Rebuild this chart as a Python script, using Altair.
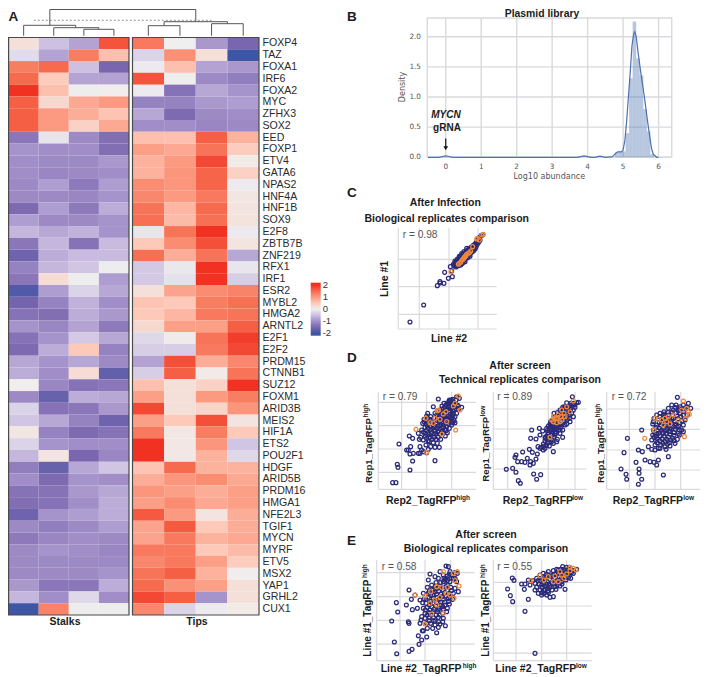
import altair as alt
import pandas as pd

genes = ["FOXP4","TAZ","FOXA1","IRF6","FOXA2","MYC","ZFHX3","SOX2","EED","FOXP1","ETV4","GATA6","NPAS2","HNF4A","HNF1B","SOX9","E2F8","ZBTB7B","ZNF219","RFX1","IRF1","ESR2","MYBL2","HMGA2","ARNTL2","E2F1","E2F2","PRDM15","CTNNB1","SUZ12","FOXM1","ARID3B","MEIS2","HIF1A","ETS2","POU2F1","HDGF","ARID5B","PRDM16","HMGA1","NFE2L3","TGIF1","MYCN","MYRF","ETV5","MSX2","YAP1","GRHL2","CUX1"]
heat = [
[0.2,-0.5,-0.8,1.7,1.35,0,-0.9,-1.5],[-0.2,-0.8,1.3,0.6,-0.3,1.1,0.2,-2.0],[1.3,1.5,-0.5,-1.5,-0.05,0.6,-0.8,-0.9],
[1.5,0.45,-0.8,-0.8,1.7,0.02,-1.05,-1.2],[2.0,0.6,-0.02,0.03,-0.05,-1.35,-0.75,-0.95],[1.6,0.3,0.85,1.0,-1.15,-1.15,-0.9,-0.85],
[1.6,1.0,0.8,0.55,-0.75,-1.45,-1.05,-1.0],[1.6,1.0,0.4,0.85,-1.0,-1.0,-1.1,-1.05],[-1.3,-0.12,-1.05,-1.4,0.6,0.6,1.6,0.75],
[-0.95,-1.0,-1.0,-1.4,0.95,0.85,1.4,0.45],[-1.0,-1.05,-1.05,-0.9,0.75,1.0,1.8,0.07],[-1.0,-1.1,-1.05,-1.0,0.75,1.05,1.55,0.4],
[-1.05,-0.85,-1.25,-0.85,1.15,1.05,1.55,-0.05],[-1.05,-1.05,-1.1,-0.95,1.2,1.0,1.35,0.12],[-1.45,-0.85,-1.25,-0.7,1.4,0.7,1.5,0.15],
[-0.85,-1.05,-1.05,-0.95,1.45,0.65,1.45,0.17],[-0.6,-0.75,-0.65,-0.95,-0.1,1.4,2.0,-0.05],[-1.3,-0.6,-1.35,-0.55,0.5,1.15,1.75,0.15],
[-1.6,-0.7,-0.55,-0.55,1.45,0.8,1.4,-0.75],[-1.15,-0.6,-0.45,-0.02,-0.4,-0.07,2.0,-0.1],[-1.3,0.25,-0.02,-0.85,-0.4,-0.15,2.0,-0.35],
[-1.85,-0.85,-0.3,-0.75,0.2,0.9,1.15,1.25],[-1.55,-1.15,-0.65,-1.0,0.55,0.5,1.3,1.45],[-1.35,-1.4,-0.7,-0.9,0.5,0.7,1.35,1.4],
[-0.95,-1.1,-0.8,-1.25,0.3,0.95,0.95,1.6],[-1.35,-0.95,-0.4,-0.75,-0.25,0.05,1.4,1.9],[-1.45,-0.7,0.5,-1.15,-0.35,-0.35,1.35,1.8],
[-0.75,-0.95,-0.75,-1.05,-0.8,1.75,0.8,1.2],[-0.7,-1.0,0.25,-1.7,-0.35,1.6,0.07,1.4],[0.03,-1.1,-1.35,-1.3,0.6,0.2,0.4,2.0],
[-1.05,-1.65,-0.7,-0.75,0.95,0.2,1.0,1.3],[-0.3,-1.35,-1.3,-0.9,1.8,0.2,0.35,1.05],[-0.45,-0.75,-1.15,-1.6,0.95,0.5,1.75,0.15],
[0.12,-1.15,-1.45,-1.35,1.35,0.1,1.3,0.5],[-0.3,-0.95,-1.0,-1.0,2.0,0.1,1.05,-0.45],[-0.6,0.15,-1.5,-1.1,2.0,0.1,0.75,-0.25],
[-1.2,-1.65,-0.75,-0.45,0.55,1.5,0.75,0.75],[-1.0,-1.45,-0.95,-1.0,0.8,1.05,1.15,0.85],[-1.35,-1.35,-0.9,-0.75,1.05,0.95,0.8,0.95],
[-1.4,-1.35,-1.0,-0.7,0.95,1.15,0.85,0.95],[-1.6,-0.95,-0.85,-0.7,1.65,1.0,0.15,0.8],[-1.05,-1.2,-1.05,-0.85,0.9,1.65,0.5,0.8],
[-1.25,-1.1,-1.0,-1.05,0.9,1.35,0.75,0.85],[-1.05,-0.95,-1.0,-1.1,1.35,1.35,0.5,0.65],[-1.05,-1.05,-1.05,-1.05,1.2,1.35,0.95,0.45],
[-1.05,-1.05,-1.05,-0.95,1.4,1.6,0.75,0.03],[-0.9,-1.3,-1.3,-0.7,1.5,1.1,0.95,0.2],[-0.6,-1.0,-0.25,-1.0,1.8,1.6,-0.95,0.2],
[-2.0,1.25,-0.02,-0.02,1.2,-0.3,-0.05,0.07]]
col_starts = [0,1,2,3,5,6,7,8]
# dendrogram segments: x1, x2, h1, h2 (columns / height)
dendro = [(1.37,7.0,32,32),(1.37,1.37,32,10.4),(7.0,7.0,32,14),
(0.5,2.23,10.4,10.4),(0.5,0.5,10.4,0),(2.23,2.23,10.4,8),
(1.5,3.0,8,8),(1.5,1.5,8,0),(3.0,3.0,8,6.4),(2.5,3.5,6.4,6.4),(2.5,2.5,6.4,0),(3.5,3.5,6.4,0),
(6.0,8.0,14,14),(6.0,6.0,14,10),(8.0,8.0,14,12),(5.5,6.5,10,10),(5.5,5.5,10,0),(6.5,6.5,10,0),
(7.5,8.5,12,12),(7.5,7.5,12,0),(8.5,8.5,12,0)]
dash_cut = (0.84,7.5,15.4)

hist_left = [-0.05,4.77,4.87,4.97,5.07,5.17,5.27,5.37,5.47,5.57,5.67,5.77]
hist_h = [0.02,0.08,0.1,0.1,0.4,1.31,2.25,1.64,1.36,0.8,0.43,0.05]
kde_x = [-0.5,-0.2,-0.1,0,0.1,0.2,3.7,3.9,4.1,4.2,4.35,4.5,4.7,4.8,4.85,4.95,5.0,5.05,5.1,5.15,5.2,5.25,5.3,5.33,5.37,5.42,5.5,5.6,5.7,5.8,5.85,5.95,6.0]
kde_y = [0,0,0.01,0.025,0.01,0,0,0.025,0,0,0.02,0,0.01,0.07,0.09,0.09,0.12,0.28,0.6,1.0,1.4,1.85,2.05,2.08,2.0,1.75,1.4,1.0,0.55,0.15,0.05,0,0]
b_xticks = [0,1,2,3,4,5,6]
b_yticks = [0.0,0.5,1.0,1.5,2.0]

c_blue = [(210,411),(251,360),(292,302),(300,290),(300,294),(312,295),(314,262),(325,280),(337,275),(331,245),(335,258),
(340,238),(343,243),(345,232),(347,240),(350,228),(352,236),(352,222),(355,230),(357,240),(358,222),(360,216),(360,232),(362,226),(364,212),(365,236),(367,220),(369,208),(370,228),(372,214),(374,204),(375,224),(377,210),(379,198),(380,216),(382,206),(384,194),(385,212),(387,200),(389,190),(390,208),(392,196),(394,186),(395,202),(397,192),(399,182),(400,198),(402,188),(404,178),(405,192),(407,175),(408,186),(410,170),(412,178),(414,165),(416,172),(418,158),(420,166),(423,152),(427,150),(348,246),(355,242),(362,240),(368,234),(375,230),(383,218),(390,214),
(344,238),(349,234),(354,226),(356,236),(359,228),(363,220),(366,230),(368,214),(371,222),(373,209),(376,218),(378,204),(381,212),(383,200),(386,206),(388,195),(391,202),(393,190),(396,197),(398,187),(401,193),(403,183),(406,182),(409,176),(411,172),(413,170),(415,162),(419,160),(345,228),(351,242),(358,214),(365,206),(372,200),(380,190)]
c_orange = [(333,260),(355,238),(362,232),(366,225),(372,218),(378,212),(385,205),(392,198),(398,185),(410,162),(418,165),(425,150),(430,148),(412,160),(370,222),(380,208),(388,203),(358,235),(375,215)]

d1_blue = [(158,398),(168,398),(172,343),(174,352),(210,360),(177,282),(218,333),(205,300),(212,290),(200,300),(210,312),(220,310),(208,258),(218,265),(235,310),(240,310),(240,290),(245,300),(285,332),(250,305),(260,308),
(295,147),(280,170),(263,190),(350,140),(358,145),(365,172),(355,178),(340,155),(330,152),(322,158),(335,165),(345,170),(325,170),(315,170),(318,180),(328,182),(340,182),(350,190),(310,185),(300,180),(292,182),(285,190),(300,195),(312,198),(322,195),(335,195),(345,200),(330,210),(318,212),(305,208),(295,205),(282,205),(272,200),(262,205),(252,208),(248,220),(258,222),(268,218),(278,222),(290,218),(300,225),(312,225),(325,222),(335,225),(345,218),(328,235),(315,238),(302,238),(290,235),(278,235),(265,235),(255,232),(245,240),(235,250),(242,262),(255,250),(265,248),(275,248),(288,250),(300,252),(310,250),(322,248),(270,262),(282,262),(295,262),(260,265),(250,270),(238,268),(268,275),(280,278),(292,280),(258,285),(272,290),(285,292),(298,292),(265,298),(330,170),(338,172),(325,160),(332,158),(318,165),(310,175),(305,195),(318,205),(290,195),(275,210),(262,215),(285,228),(298,215),(310,215),(322,205),(336,205),(342,212),(345,160),(352,165),(312,160),(306,168),(328,150),(338,148),(348,150),
(322,176),(334,176),(327,188),(340,190),(315,190),(304,188),(296,190),(306,202),(314,206),(326,200),(331,202),(339,198),(349,178),(355,168),(290,211),(280,214),(270,208),(260,198),(253,216),(262,228),(272,228),(283,232),(294,228),(305,220),(317,218),(329,216),(338,218),(320,230),(308,232),(296,242),(284,242),(272,240),(260,242),(250,246),(282,252),(294,246),(306,244),(318,242),(268,254),(256,258),(276,268),(288,268),(264,272),(302,268),(316,258),(326,162),(334,150),(342,162)]
d1_orange = [(228,238),(260,307),(347,240),(306,252),(292,182),(318,185),(355,138),(345,160),(360,180),(340,168),(258,205),(280,220),(300,208),(320,215),(310,192),(285,205),(270,218),(296,180)]

d2_blue = [(499,358),(518,355),(528,367),(535,392),(541,400),(528,315),(525,322),(548,306),(568,298),(533,335),(545,335),(555,337),(562,325),(572,335),(570,345),(580,340),(588,327),(581,372),(602,374),(590,388),(592,312),(577,307),(594,290),(600,295),(610,300),(640,305),(575,240),(572,265),(588,267),(598,235),(608,243),(615,262),(600,255),
(697,140),(715,157),(700,160),(690,165),(680,158),(672,170),(660,180),(668,190),(680,178),(692,178),(705,172),(695,190),(685,195),(675,200),(665,205),(655,195),(645,200),(640,212),(650,212),(660,218),(672,212),(682,208),(688,205),(630,222),(640,225),(652,225),(662,232),(675,225),(668,240),(655,240),(642,238),(630,235),(620,235),(625,248),(635,250),(648,250),(660,250),(620,258),(630,262),(642,262),(652,268),(668,262),(615,272),(625,275),(610,282),(620,285),(605,292),(615,295),(637,270),(640,280),(628,288),(650,275),(680,222),(690,215),(700,200),(655,232),(645,245),(635,240),(665,195),(678,185),(670,178),(685,170),(698,165),(710,158),(660,205),(648,218),
(625,228),(632,228),(622,242),(630,242),(638,232),(646,232),(638,245),(650,238),(660,240),(635,218),(645,212),(655,205),(668,198),(680,192),(690,195),(700,180),(688,182),(676,172),(664,186),(652,188),(642,190),(632,215),(624,252),(616,265),(634,256),(644,255),(626,268),(634,276),(622,278),(612,288),(670,218),(678,202),(662,225),(655,218),(668,172),(692,160),(704,165)]
d2_orange = [(700,153),(680,170),(665,180),(655,195),(645,205),(635,210),(672,190),(660,215),(650,205),(640,215),(630,262),(690,185),(675,200),(662,200),(650,218),(665,210),(640,200)]

d3_blue = [(843,357),(852,308),(862,265),(858,373),(860,388),(888,337),(905,240),(895,300),(907,305),(897,357),(897,370),(905,388),(895,403),(915,330),(930,335),(942,337),(950,345),(955,330),(970,375),(925,290),(935,298),(945,300),(960,295),(978,298),(985,320),
(1012,142),(1045,160),(1052,175),(1040,172),(1030,165),(1020,170),(1008,165),(995,165),(985,175),(1000,180),(1015,182),(1030,185),(1042,195),(972,185),(960,190),(950,195),(985,195),(998,195),(1010,198),(1022,200),(1035,210),(942,205),(955,208),(968,205),(980,210),(992,212),(1005,215),(1018,218),(1030,225),(938,222),(950,225),(962,225),(975,225),(988,228),(1000,230),(1012,232),(1025,240),(940,240),(952,242),(965,240),(978,242),(990,245),(1002,248),(1015,250),(1030,245),(938,255),(948,258),(960,258),(972,258),(985,262),(998,265),(1012,268),(935,270),(947,272),(960,272),(975,275),(988,278),(1005,280),(962,285),(975,290),(990,288),(945,285),(955,295),(1018,255),(1000,205),(975,198),(1035,175),(1025,178),(965,215),(985,218),(950,250),(970,250),(990,235),(1008,222),(995,205),(940,215),
(958,218),(970,218),(982,225),(994,222),(1004,225),(1016,228),(948,232),(958,234),(970,234),(982,236),(994,238),(1006,238),(1018,240),(944,248),(956,250),(966,248),(978,250),(990,252),(1002,256),(952,266),(966,266),(980,268),(992,270),(1002,272),(942,262),(968,280),(982,282),(952,278),(960,200),(972,192),(984,188),(996,186),(1008,188),(1020,190),(1030,195),(1014,206),(1026,212),(978,215),(1018,176),(1005,172)]
d3_orange = [(914,265),(1033,260),(1030,153),(1045,185),(1048,193),(1037,205),(945,205),(955,208),(965,210),(980,215),(990,222),(975,205),(985,200),(1015,210),(1000,195),(942,240),(1025,180),(1040,175),(970,225)]

e1_blue = [(170,431),(163,396),(207,424),(216,418),(155,333),(173,306),(169,278),(207,240),(199,285),(214,268),(217,299),(225,255),(205,335),(207,340),(237,403),(245,390),(235,377),(247,362),(260,381),(240,340),(232,295),(245,320),(243,330),(248,278),
(318,168),(325,170),(330,185),(300,185),(270,192),(265,210),(285,200),(295,205),(310,195),(322,198),(335,195),(345,188),(352,190),(340,205),(350,215),(355,245),(345,235),(330,215),(315,210),(302,218),(288,218),(275,225),(262,232),(250,250),(268,245),(280,240),(292,235),(305,232),(318,230),(332,232),(340,250),(328,250),(315,248),(302,252),(290,252),(278,255),(265,262),(252,268),(240,270),(258,280),(272,275),(285,270),(298,268),(310,268),(325,265),(338,268),(250,295),(262,292),(275,290),(288,288),(302,285),(315,285),(328,282),(255,310),(268,308),(280,305),(292,305),(308,310),(320,305),(255,325),(268,322),(280,322),(295,322),(310,325),(260,340),(272,340),(285,345),(300,342),(316,347),(262,355),(278,355),(290,368),(295,352),(250,362),(345,205),(322,225),(312,205),(330,262),(280,265),(295,300),(270,300),(285,332),(308,290),
(310,215),(322,212),(300,228),(288,228),(276,238),(264,250),(296,244),(310,240),(322,240),(334,242),(284,246),(272,256),(258,268),(292,262),(306,260),(318,258),(278,280),(290,278),(302,276),(314,276),(326,274),(268,285),(256,300),(282,298),(296,295),(310,298),(322,295),(262,315),(274,315),(288,315),(300,315),(268,332),(280,332),(296,335),(308,335),(335,205),(328,192),(318,205)]
e1_orange = [(310,185),(340,190),(352,185),(357,228),(345,212),(225,255),(255,258),(272,245),(290,230),(305,232),(322,232),(342,265),(330,255),(300,262),(285,270),(270,280),(290,285),(318,250),(275,312),(255,342),(310,310)]

e2_blue = [(585,430),(555,304),(518,275),(511,257),(503,237),(517,204),(522,211),(565,268),(545,222),(555,222),(553,238),
(668,170),(680,172),(650,178),(640,182),(625,185),(610,190),(600,195),(590,205),(578,212),(565,210),(610,200),(625,198),(638,195),(650,192),(665,188),(680,185),(695,180),(710,178),(700,190),(688,195),(672,200),(658,202),(645,205),(630,208),(615,210),(600,212),(585,220),(570,225),(590,232),(605,225),(620,222),(635,218),(650,218),(665,215),(678,210),(692,205),(600,240),(615,238),(630,232),(645,230),(660,228),(675,238),(612,250),(625,248),(640,260),(605,255),(630,262),(585,240),(595,250),(620,192),(655,180),(670,178),(685,178),(640,215),(622,235),
(605,205),(618,202),(632,200),(644,192),(656,190),(668,194),(682,190),(694,188),(652,210),(664,206),(676,203),(686,202),(642,222),(628,222),(612,218),(598,222),(606,232),(618,228),(630,226),(652,224),(666,222),(594,212),(612,242),(624,242),(636,240),(648,238),(606,248),(620,255),(662,178),(675,182),(688,172),(700,182)]
e2_orange = [(573,212),(600,197),(625,200),(640,215),(655,215),(665,195),(680,192),(690,172),(700,175),(708,180),(660,185),(645,198),(672,205),(612,210),(690,182)]

OFF = 8
SANS = "Liberation Sans"
GRID = "#dadade"
NAVY = "#2b2a78"
ORANGE = "#f0883a"
layers = []


def label(text, x, y, size=10.5, bold=True, align="center", angle=0, color="#1c1c1c", font=SANS, italic=False):
    return alt.Chart(pd.DataFrame({"t": [text]})).mark_text(
        fontSize=size, fontWeight="bold" if bold else "normal", align=align, baseline="middle",
        angle=angle, color=color, font=font, fontStyle="italic" if italic else "normal",
    ).encode(x=alt.value(x - OFF), y=alt.value(y - OFF), text="t:N")


# ---------- panel A
hx = alt.Scale(domain=[0, 4, 5, 9], range=[8.6 - OFF, 129 - OFF, 132.5 - OFF, 259 - OFF], nice=False, zero=False)
hy = alt.Scale(domain=[0, 49], range=[37.5 - OFF, 615 - OFF], nice=False, zero=False)
hh = alt.Scale(domain=[0, 15.4, 32], range=[27.7, 12.3, 1.5], nice=False, zero=False)
rows = []
for r, vals in enumerate(heat):
    for c0, v in zip(col_starts, vals):
        rows.append({"x0": c0, "x1": c0 + 1, "y0": r, "y1": r + 1, "v": v})
stops = [-2.2, -2, -1.5, -1, -0.5, 0, 0.5, 1, 1.5, 2, 2.2]
cols = ["#3a55a5", "#3f55a6", "#7a66ae", "#a18ec8", "#cdc0e2", "#efefef", "#fdc9b9", "#fb9a81", "#f66b4e", "#f13222", "#f02c1e"]
layers.append(alt.Chart(pd.DataFrame(rows)).mark_rect().encode(
    x=alt.X("x0:Q", scale=hx, axis=None), x2="x1:Q",
    y=alt.Y("y0:Q", scale=hy, axis=None), y2="y1:Q",
    color=alt.Color("v:Q", title=None, scale=alt.Scale(domain=stops, range=cols, interpolate="rgb", nice=False, zero=False),
                    legend=alt.Legend(orient="none", legendX=310.7 - OFF, legendY=282.7 - OFF, gradientLength=53,
                                      gradientThickness=10, values=[2, 1, 0, -1, -2], labelFont=SANS, labelFontSize=9.5,
                                      labelColor="#333", labelOverlap=False, padding=0, labelOffset=2, gradientStrokeWidth=0,
                                      labelExpr="'' + datum.value")),
))
frames = pd.DataFrame({"x0": [0, 5], "x1": [4, 9], "y0": [0, 0], "y1": [49, 49]})
layers.append(alt.Chart(frames).mark_rect(fillOpacity=0, stroke="#4a4a4a", strokeWidth=1.2).encode(
    x=alt.X("x0:Q", scale=hx, axis=None), x2="x1:Q", y=alt.Y("y0:Q", scale=hy, axis=None), y2="y1:Q"))
dd = pd.DataFrame(dendro, columns=["x1", "x2", "h1", "h2"])
layers.append(alt.Chart(dd).mark_rule(color="#555", strokeWidth=1).encode(
    x=alt.X("x1:Q", scale=hx, axis=None), x2="x2:Q", y=alt.Y("h1:Q", scale=hh, axis=None), y2="h2:Q"))
cut = pd.DataFrame({"x1": [dash_cut[0]], "x2": [dash_cut[1]], "h": [dash_cut[2]]})
layers.append(alt.Chart(cut).mark_rule(color="#777", strokeWidth=0.8, strokeDash=[2, 2]).encode(
    x=alt.X("x1:Q", scale=hx, axis=None), x2="x2:Q", y=alt.Y("h:Q", scale=hh, axis=None)))
layers.append(alt.Chart(pd.DataFrame({"g": genes, "r": [i + 0.5 for i in range(len(genes))]})).mark_text(
    align="left", baseline="middle", fontSize=10.6, font=SANS, color="#2a2a2a").encode(
    x=alt.value(262.5 - OFF), y=alt.Y("r:Q", scale=hy, axis=None), text="g:N"))
layers += [label("A", 8.5, 16.5, 13.5, align="left"), label("Stalks", 65, 622), label("Tips", 197, 622)]

# ---------- panel B
bx = alt.Scale(domain=[-0.52, 6.37], range=[427.3 - OFF, 671.7 - OFF], nice=False, zero=False)
by = alt.Scale(domain=[0, 2.31], range=[157.3 - OFF, 18 - OFF], nice=False, zero=False)
gx = pd.DataFrame({"g": b_xticks, "a": 0, "b": 2.31, "t": [str(v) for v in b_xticks]})
gy = pd.DataFrame({"g": b_yticks, "a": -0.52, "b": 6.37, "t": [f"{v:.1f}" for v in b_yticks]})
layers.append(alt.Chart(gx).mark_rule(color=GRID, strokeWidth=1.4).encode(
    x=alt.X("g:Q", scale=bx, axis=None), y=alt.Y("a:Q", scale=by, axis=None), y2="b:Q"))
layers.append(alt.Chart(gy).mark_rule(color=GRID, strokeWidth=1.4).encode(
    y=alt.Y("g:Q", scale=by, axis=None), x=alt.X("a:Q", scale=bx, axis=None), x2="b:Q"))
frameb = pd.DataFrame({"x0": [-0.52], "x1": [6.37], "y0": [0], "y1": [2.31]})
layers.append(alt.Chart(frameb).mark_rect(fillOpacity=0, stroke=GRID, strokeWidth=1.4).encode(
    x=alt.X("x0:Q", scale=bx, axis=None), x2="x1:Q", y=alt.Y("y0:Q", scale=by, axis=None), y2="y1:Q"))
bars = pd.DataFrame({"l": hist_left, "r": [v + 0.1 for v in hist_left], "h": hist_h, "z": 0})
layers.append(alt.Chart(bars).mark_rect(color="#4c72b0", opacity=0.4).encode(
    x=alt.X("l:Q", scale=bx, axis=None), x2="r:Q", y=alt.Y("h:Q", scale=by, axis=None), y2="z:Q"))
layers.append(alt.Chart(pd.DataFrame({"x": kde_x, "y": kde_y})).mark_line(color="#4c72b0", strokeWidth=1.2).encode(
    x=alt.X("x:Q", scale=bx, axis=None), y=alt.Y("y:Q", scale=by, axis=None)))
layers.append(alt.Chart(gx).mark_text(fontSize=7.3, font="DejaVu Sans", color="#555", baseline="middle").encode(
    x=alt.X("g:Q", scale=bx, axis=None), y=alt.value(167 - OFF), text="t:N"))
layers.append(alt.Chart(gy).mark_text(fontSize=7.3, font="DejaVu Sans", color="#555", baseline="middle", align="right").encode(
    y=alt.Y("g:Q", scale=by, axis=None), x=alt.value(421 - OFF), text="t:N"))
arrow = pd.DataFrame({"x": [0], "y0": [0.31], "y1": [0.16]})
layers.append(alt.Chart(arrow).mark_rule(color="#111", strokeWidth=1.2).encode(
    x=alt.X("x:Q", scale=bx, axis=None), y=alt.Y("y0:Q", scale=by, axis=None), y2="y1:Q"))
layers.append(alt.Chart(pd.DataFrame({"x": [0], "y": [0.15]})).mark_point(shape="triangle-down", filled=True, color="#111", size=22, opacity=1).encode(
    x=alt.X("x:Q", scale=bx, axis=None), y=alt.Y("y:Q", scale=by, axis=None)))
layers += [
    label("B", 347, 16.5, 13.5, align="left"), label("Plasmid library", 542, 13.5, 10.4),
    label("Density", 403.3, 87, 8, False, angle=270, color="#555", font="DejaVu Sans"),
    label("Log10 abundance", 549.3, 177, 8, False, color="#555", font="DejaVu Sans"),
    label("MYCN", 446, 115.3, 10, italic=True), label("gRNA", 447, 128, 10),
]


# ---------- scatter panels
def scatter(blue, orange, xd, yd, xr, yr, gxs, gys):
    sx = alt.Scale(domain=list(xd), range=[xr[0] - OFF, xr[1] - OFF], nice=False, zero=False)
    sy = alt.Scale(domain=list(yd), range=[yr[0] - OFF, yr[1] - OFF], nice=False, zero=False)
    X = lambda f: alt.X(f, scale=sx, axis=None)
    Y = lambda f: alt.Y(f, scale=sy, axis=None)
    vg = pd.DataFrame({"g": gxs + [xd[0]], "a": yd[0], "b": yd[1]})
    hg = pd.DataFrame({"g": gys + [yd[0]], "a": xd[0], "b": xd[1]})
    out = [
        alt.Chart(vg).mark_rule(color=GRID, strokeWidth=1.2).encode(x=X("g:Q"), y=Y("a:Q"), y2="b:Q"),
        alt.Chart(hg).mark_rule(color=GRID, strokeWidth=1.2).encode(y=Y("g:Q"), x=X("a:Q"), x2="b:Q"),
        alt.Chart(pd.DataFrame(blue, columns=["x", "y"])).mark_point(color=NAVY, filled=False, size=15, strokeWidth=1.25, opacity=1).encode(x=X("x:Q"), y=Y("y:Q")),
        alt.Chart(pd.DataFrame(orange, columns=["x", "y"])).mark_point(color=ORANGE, filled=False, size=15, strokeWidth=1.25, opacity=1).encode(x=X("x:Q"), y=Y("y:Q")),
    ]
    return out


layers += scatter(c_blue, c_orange, (175, 470), (432, 130), (398.3, 496.7), (329, 228.3), [238, 327, 414], [223, 305, 388])
layers += scatter(d1_blue, d1_orange, (115, 408), (418, 125), (378.3, 476), (489.3, 391.7), [185, 260, 335], [157, 227, 297, 367])
layers += scatter(d2_blue, d2_orange, (460, 740), (418, 125), (493.3, 586.7), (489.3, 391.7), [503, 625, 705], [177, 237, 297, 357])
layers += scatter(d3_blue, d3_orange, (800, 1085), (418, 125), (606.7, 701.7), (489.3, 391.7), [868, 945, 1022], [177, 238, 300, 360])
layers += scatter(e1_blue, e1_orange, (110, 405), (452, 150), (376.7, 475), (660.7, 560), [180, 255, 332], [188, 260, 331, 402])
layers += scatter(e2_blue, e2_orange, (460, 755), (452, 150), (493.3, 591.7), (660.7, 560), [528, 605, 680], [217, 288, 358, 429])

GREY = "#555"
SUP = 6.5
YL = 9.7
layers += [
    label("C", 347, 193, 13.5, align="left"), label("D", 347, 358, 13.5, align="left"), label("E", 347, 540.7, 13.5, align="left"),
    label("After Infection", 445.3, 203), label("Biological replicates comparison", 446.7, 218.7),
    label("Line #2", 449, 338.7), label("Line #1", 385, 279, angle=270),
    label("r = 0.98", 402.7, 235, 10.2, False, "left", color=GREY),
    label("After screen", 520, 365.7), label("Technical replicates comparison", 520, 380.3),
    label("r = 0.79", 382.7, 396.7, 10.2, False, "left", color=GREY),
    label("r = 0.89", 497.3, 396.7, 10.2, False, "left", color=GREY),
    label("r = 0.72", 611.7, 396.7, 10.2, False, "left", color=GREY),
    label("Rep2_TagRFP", 386, 500.7, align="left"), label("high", 456.3, 498, SUP, align="left"),
    label("Rep2_TagRFP", 502.7, 500.7, align="left"), label("low", 572.3, 498, SUP, align="left"),
    label("Rep2_TagRFP", 612.7, 500.7, align="left"), label("low", 683.3, 498, SUP, align="left"),
    label("Rep1_TagRFP", 369, 483, YL, align="left", angle=270), label("high", 365.5, 417.5, SUP, align="left", angle=270),
    label("Rep1_TagRFP", 485.7, 481.7, YL, align="left", angle=270), label("low", 482.5, 416.5, SUP, align="left", angle=270),
    label("Rep1_TagRFP", 601, 483, YL, align="left", angle=270), label("high", 597.5, 417.5, SUP, align="left", angle=270),
    label("After screen", 486, 535), label("Biological replicates comparison", 486, 549.3),
    label("r = 0.58", 381.7, 567, 10.2, False, "left", color=GREY),
    label("r = 0.55", 497.3, 567, 10.2, False, "left", color=GREY),
    label("Line #2_TagRFP", 380.7, 669, align="left"), label("high", 462.7, 666, SUP, align="left"),
    label("Line #2_TagRFP", 495.3, 669, align="left"), label("low", 576, 666, SUP, align="left"),
    label("Line #1_TagRFP", 367.7, 656.7, 10, align="left", angle=270), label("high", 364.5, 578, SUP, align="left", angle=270),
    label("Line #1_TagRFP", 485.7, 656.7, 10, align="left", angle=270), label("high", 482.5, 578, SUP, align="left", angle=270),
]

chart = alt.layer(*layers).resolve_scale(x="independent", y="independent").properties(
    width=692, height=667, padding=0, autosize=alt.AutoSizeParams(type="none")
).configure_view(stroke=None)
chart.save("out.html", embed_options={"renderer": "svg", "actions": False})
